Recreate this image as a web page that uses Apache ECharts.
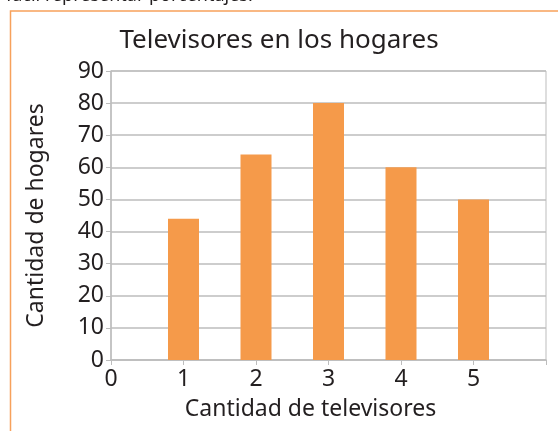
<!DOCTYPE html>
<html>
<head>
<meta charset="utf-8">
<script src="https://cdn.jsdelivr.net/npm/echarts@6/dist/echarts.min.js"></script>
<style>
  html, body { margin: 0; padding: 0; background: #fff; }
  #chart { width: 558px; height: 431px; }
</style>
</head>
<body>
<div id="chart"></div>
<script>
// Number of televisions per household and how many households have that number
const tvCounts = [1, 2, 3, 4, 5];
const households = [44, 64, 80, 60, 50];
const xTickLabels = ['0', '1', '2', '3', '4', '5'];
const yTickLabels = ['0', '10', '20', '30', '40', '50', '60', '70', '80', '90'];

const textColor = '#231f20';
const barColor = '#f59a4a';
const frameColor = '#f7a15b';
const gridColor = '#bdbdbd';
const fontFamily = '"Noto Sans", "Open Sans", sans-serif';

const chart = echarts.init(document.getElementById('chart'), null, { renderer: 'canvas' });

chart.setOption({
  backgroundColor: '#fff',
  animation: false,
  title: {
    text: 'Televisores en los hogares',
    left: 'center',
    top: 23,
    textStyle: { color: textColor, fontSize: 26, fontWeight: 'normal', fontFamily: fontFamily }
  },
  graphic: [
    {
      type: 'text',
      left: 6,
      top: -13,
      style: { text: 'fácil representar porcentajes.', fill: textColor, font: '18px ' + fontFamily }
    },
    {
      type: 'polyline',
      shape: { points: [[10.5, 431], [10.5, 11], [558, 11]] },
      style: { stroke: frameColor, lineWidth: 1.5, fill: null }
    }
  ],
  grid: {
    left: 111, right: 12, top: 71, bottom: 71,
    show: true, borderColor: gridColor, borderWidth: 1
  },
  xAxis: {
    type: 'value',
    min: 0, max: 6, interval: 1,
    name: 'Cantidad de televisores',
    nameLocation: 'middle',
    nameGap: 38,
    nameTextStyle: { color: textColor, fontSize: 23, fontFamily: fontFamily, padding: [0, 36, 0, 0] },
    axisLine: { show: true, lineStyle: { color: gridColor, width: 1.5 } },
    axisTick: { show: true, length: 5, lineStyle: { color: gridColor } },
    splitLine: { show: false },
    axisLabel: {
      color: textColor, fontSize: 23, fontFamily: fontFamily, margin: 8,
      formatter: v => (xTickLabels[v] !== undefined ? xTickLabels[v] : '')
    }
  },
  yAxis: {
    type: 'value',
    min: 0, max: 90, interval: 10,
    name: 'Cantidad de hogares',
    nameLocation: 'middle',
    nameGap: 63,
    nameRotate: 90,
    nameTextStyle: { color: textColor, fontSize: 23, fontFamily: fontFamily },
    axisLine: { show: true, lineStyle: { color: gridColor, width: 1.5 } },
    axisTick: { show: true, length: 5, lineStyle: { color: gridColor } },
    splitLine: { show: true, lineStyle: { color: gridColor, width: 1.5 } },
    axisLabel: {
      color: textColor, fontSize: 23, fontFamily: fontFamily, margin: 7,
      formatter: v => yTickLabels[Math.round(v / 10)]
    }
  },
  series: [{
    type: 'bar',
    barWidth: 31,
    itemStyle: { color: barColor },
    data: tvCounts.map((c, i) => [c, households[i]])
  }]
});
</script>
</body>
</html>
